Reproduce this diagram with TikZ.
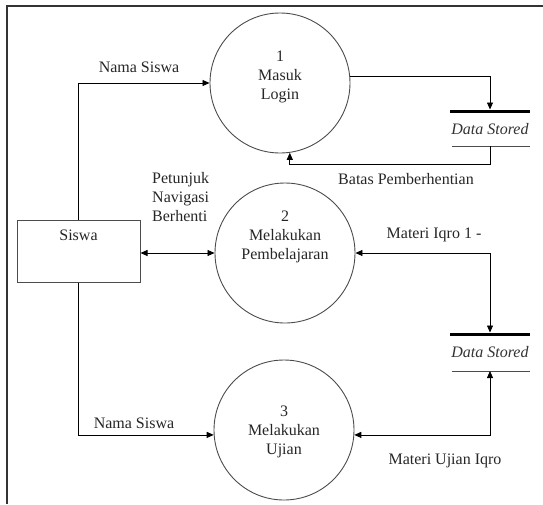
\documentclass[tikz,border=0pt]{standalone}
\usepackage{fontspec}
\setmainfont{Liberation Serif}
\newfontfamily\dfdfont{Liberation Serif}
\usetikzlibrary{arrows.meta, positioning}

\begin{document}
\begin{tikzpicture}[x=1pt, y=-1pt,
        font=\dfdfont\fontsize{16}{19}\selectfont,
        proc/.style={draw=black!70, line width=0.9pt, circle, minimum size=140pt, inner sep=0pt},
        ptext/.style={align=center, text=black!85, inner sep=0pt},
        entity/.style={draw=black!70, line width=1pt, rectangle, minimum width=123pt, minimum height=62pt, inner sep=0pt},
        arrow/.style={-{Triangle[length=7pt, width=6pt]}, line width=0.8pt},
        darrow/.style={{Triangle[length=7pt, width=6pt]}-{Triangle[length=7pt, width=6pt]}, line width=0.8pt},
        lbl/.style={text=black!85, inner sep=0pt},
        store/.style={font=\dfdfont\fontsize{16}{19}\selectfont\itshape, text=black!80, inner sep=0pt},
        thickbar/.style={line width=3pt},
        thinbar/.style={line width=0.9pt, draw=black!70}
    ]
    \useasboundingbox (0,0) rectangle (543,504);

    % --- frame ---
    \draw[line width=1.5pt, draw=black!80] (7,504) -- (7,6) -- (543,6);

    % --- processes ---
    \node[proc] (p1) at (280,83) {};
    \node[ptext] (p1t) at (280,77) {1\\Masuk\\Login};
    \node[proc] (p2) at (285,253) {};
    \node[ptext] (p2t) at (285,237) {2\\Melakukan\\Pembelajaran};
    \node[proc] (p3) at (284,430) {};
    \node[ptext] (p3t) at (284,432) {3\\Melakukan\\Ujian};

    % --- entity ---
    \node[entity] (siswa) at (78.5,251) {};
    \node[lbl] (siswat) at (78.5,235) {Siswa};

    % --- data stores ---
    \node[store] (ds1) at (490,129) {Data Stored};
    \coordinate (ds1top) at (490,109.5);
    \coordinate (ds1bot) at (490,146);
    \draw[thickbar] ([xshift=-40pt, yshift=-1.5pt]ds1top) -- ([xshift=40pt, yshift=-1.5pt]ds1top);
    \draw[thinbar] ([xshift=-38pt]ds1bot) -- ([xshift=40pt]ds1bot);

    \node[store] (ds2) at (490,352) {Data Stored};
    \coordinate (ds2top) at (490,332.5);
    \coordinate (ds2bot) at (490,371);
    \draw[thickbar] ([xshift=-40pt, yshift=-1.5pt]ds2top) -- ([xshift=40pt, yshift=-1.5pt]ds2top);
    \draw[thinbar] ([xshift=-38pt]ds2bot) -- ([xshift=40pt]ds2bot);

    % --- flows ---
    \coordinate (ret1) at (490,164);
    \draw[arrow] (siswa.north) |- (p1.west);
    \draw[darrow] (siswa.east |- p2.west) -- (p2.west);
    \draw[arrow] (siswa.south) |- (p3.184);
    \draw[arrow] (p1.5) -| (ds1top);
    \draw[arrow] (ds1bot) -- (ret1) -| (p1.-82);
    \draw[darrow] (p2.east) -| (ds2top);
    \draw[darrow] (p3.-4) -| (ds2bot);

    % --- flow labels ---
    \node[lbl] (nama1) at (139,67) {Nama Siswa};
    \node[lbl] (nama2) at (134,423) {Nama Siswa};
    \node[lbl] (batas) at (406,179) {Batas Pemberhentian};
    \node[lbl, align=left, anchor=west] (petunjuk) at (152,197) {Petunjuk\\Navigasi\\Berhenti};
    \node[lbl] (materi1) at (434,235) {Materi Iqro 1 -};
    \node[lbl] (materi2) at (445,461) {Materi Ujian Iqro};

\end{tikzpicture}
\end{document}
